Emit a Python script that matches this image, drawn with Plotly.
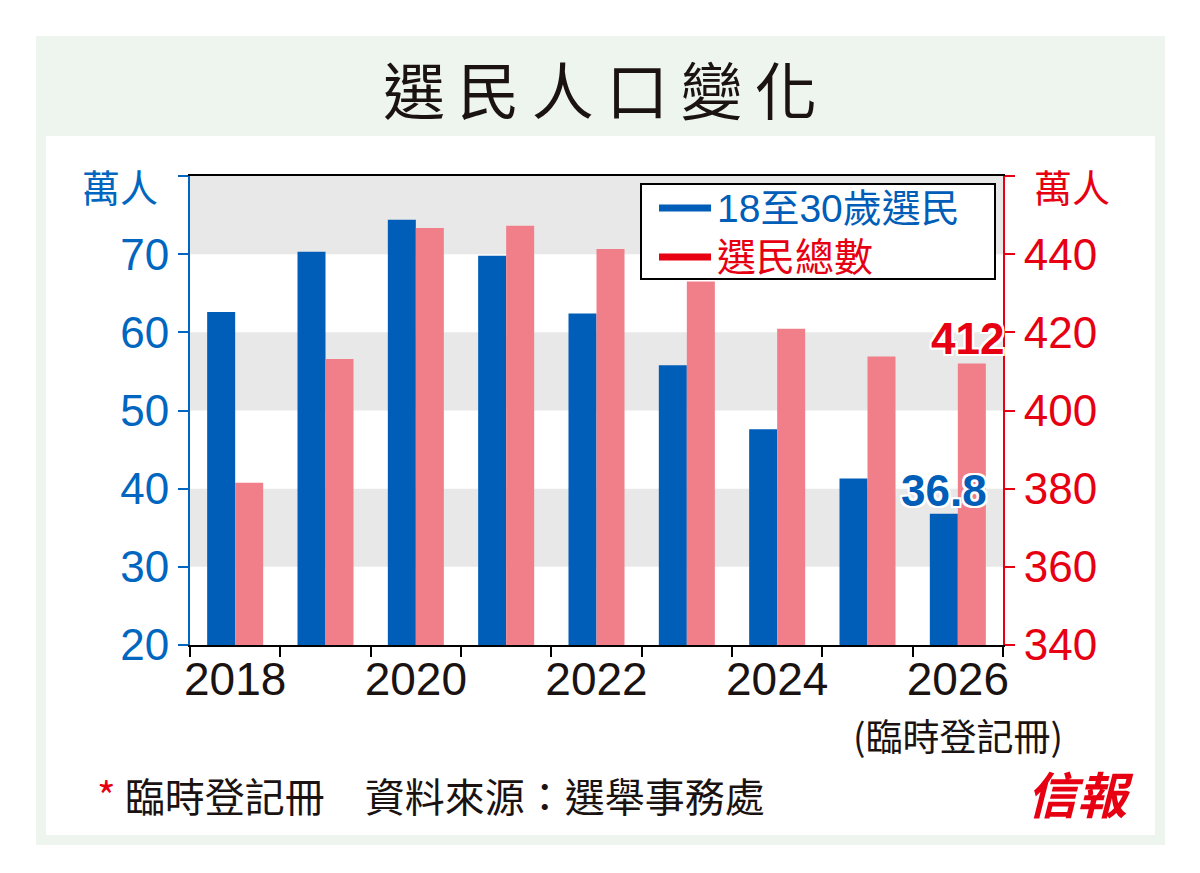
import plotly.graph_objects as go

# 選民人口變化 (萬人)
years = ["2018", "2019", "2020", "2021", "2022", "2023", "2024", "2025", "2026"]
young_voters = [62.6, 70.3, 74.4, 69.8, 62.4, 55.8, 47.6, 41.3, 36.8]
total_voters = [381.5, 413.2, 446.7, 447.3, 441.3, 433.0, 420.9, 413.8, 412.0]
x_labels = ["2018", "", "2020", "", "2022", "", "2024", "", "2026"]
left_ticks = [20, 30, 40, 50, 60, 70, 80]
left_text = ["20", "30", "40", "50", "60", "70", ""]
right_ticks = [340, 360, 380, 400, 420, 440, 460]
right_text = ["340", "360", "380", "400", "420", "440", ""]
bands = [(30, 40), (50, 60), (70, 80)]
series_names = ["18至30歲選民", "選民總數"]

BLUE = "#005EB8"
PINK = "#F07F89"
RED = "#E60012"
AXBLUE = "#0066C0"
INK = "#1a1311"
NUM = "Liberation Sans Narrow, Arial Narrow, Liberation Sans, Noto Sans CJK TC"
CJK = "Noto Sans CJK TC"

# page has an 8px body margin, so the figure is drawn 8px in from the window corner
OFF = 8
W, H = 1200 - 2 * OFF, 873 - 2 * OFF
L, R, T, B = 190, 1003, 176, 645
last = len(years) - 1


def px(x):
    return (x - L) / (R - L)


def py(y):
    return (B - y) / (B - T)


fig = go.Figure()
fig.add_trace(go.Bar(x=years, y=young_voters, name=series_names[0], marker_color=BLUE,
                     marker_line_width=0, offsetgroup="a", yaxis="y"))
fig.add_trace(go.Bar(x=years, y=total_voters, name=series_names[1], marker_color=PINK,
                     marker_line_width=0, offsetgroup="b", yaxis="y2"))

shapes = [
    dict(type="rect", xref="paper", yref="paper", x0=px(36), x1=px(1165), y0=py(36), y1=py(845),
         fillcolor="#EEF5EF", line_width=0, layer="below"),
    dict(type="rect", xref="paper", yref="paper", x0=px(46), x1=px(1155), y0=py(136), y1=py(835),
         fillcolor="white", line_width=0, layer="below"),
]
for lo, hi in bands:
    shapes.append(dict(type="rect", xref="paper", yref="y", x0=0, x1=1, y0=lo, y1=hi,
                       fillcolor="#E8E8E8", line_width=0, layer="below"))

# legend box with line keys, like the print original
shapes.append(dict(type="rect", xref="paper", yref="paper", x0=px(641), x1=px(995), y0=py(184), y1=py(279),
                   fillcolor="white", line=dict(color="black", width=2), layer="above"))
for yy, col in [(208, BLUE), (257, RED)]:
    shapes.append(dict(type="line", xref="paper", yref="paper", x0=px(659), x1=px(711), y0=py(yy), y1=py(yy),
                       line=dict(color=col, width=7), layer="above"))

outline = ", ".join("%dpx %dpx 0 #fff" % (a, b) for a in (-2, 0, 2) for b in (-2, 0, 2))


def label(text, x, y, size, color, family=CJK, xanchor="center"):
    return dict(text=text, xref="paper", yref="paper", x=px(x), y=py(y), showarrow=False,
                xanchor=xanchor, yanchor="middle", font=dict(family=family, size=size, color=color))


annotations = [
    label("\u2009".join("選民人口變化"), 600, 88, 62, INK),
    label("萬人", 120, 185, 38, AXBLUE),
    label("萬人", 1072, 185, 38, RED),
    label(series_names[0], 715, 208, 39, BLUE, family=NUM, xanchor="left"),
    label(series_names[1], 715, 257, 39, RED, family=NUM, xanchor="left"),
    dict(text="(臨時登記冊)", xref="x", yref="paper", x=last, y=py(735), showarrow=False,
         xanchor="center", yanchor="middle", font=dict(family=CJK, size=37, color=INK)),
    label("<span style='color:%s'>*</span>\u00a0臨時登記冊\u3000資料來源：選舉事務處" % RED,
          95, 795, 40, INK, xanchor="left"),
    label("<b><i>信報</i></b>", 1080, 792, 50, RED),
    dict(text="<b>%.1f</b>" % young_voters[-1], xref="x", yref="y", x=last, y=young_voters[-1],
         xshift=-14, yshift=-3, xanchor="center", yanchor="bottom", showarrow=False,
         font=dict(family="Liberation Sans", size=44, color=BLUE, shadow=outline)),
    dict(text="<b>%d</b>" % total_voters[-1], xref="x", yref="y2", x=last, y=total_voters[-1],
         xshift=10, yshift=-1, xanchor="center", yanchor="bottom", showarrow=False,
         font=dict(family="Liberation Sans", size=44, color=RED, shadow=outline)),
]

fig.update_layout(
    width=W, height=H,
    margin=dict(l=L - OFF, r=1200 - OFF - R, t=T - OFF, b=873 - OFF - B),
    paper_bgcolor="white", plot_bgcolor="rgba(0,0,0,0)",
    barmode="group", bargap=0.38, bargroupgap=0, showlegend=False,
    shapes=shapes, annotations=annotations,
    xaxis=dict(type="category", categoryorder="array", categoryarray=years, range=[-0.5, 8.5],
               tickmode="array", tickvals=years, ticktext=x_labels, tickangle=0,
               tickson="boundaries", ticks="outside", ticklen=10, tickwidth=2, tickcolor="black",
               showline=True, linecolor="black", linewidth=2, mirror=True, showgrid=False,
               ticklabelstandoff=-7,
               tickfont=dict(family=NUM, size=46, color=INK)),
    yaxis=dict(range=[20, 80], tickmode="array", tickvals=left_ticks, ticktext=left_text,
               ticks="outside", ticklen=10, tickwidth=2, tickcolor=AXBLUE,
               showline=True, linecolor=AXBLUE, linewidth=2, showgrid=False, zeroline=False,
               tickfont=dict(family=NUM, size=44, color=AXBLUE)),
    yaxis2=dict(range=[340, 460], overlaying="y", side="right", tickmode="array",
                tickvals=right_ticks, ticktext=right_text,
                ticks="outside", ticklen=10, tickwidth=2, tickcolor=RED,
                showline=True, linecolor=RED, linewidth=2, showgrid=False, zeroline=False,
                tickfont=dict(family=NUM, size=44, color=RED)),
)

fig.write_html("out.html")
